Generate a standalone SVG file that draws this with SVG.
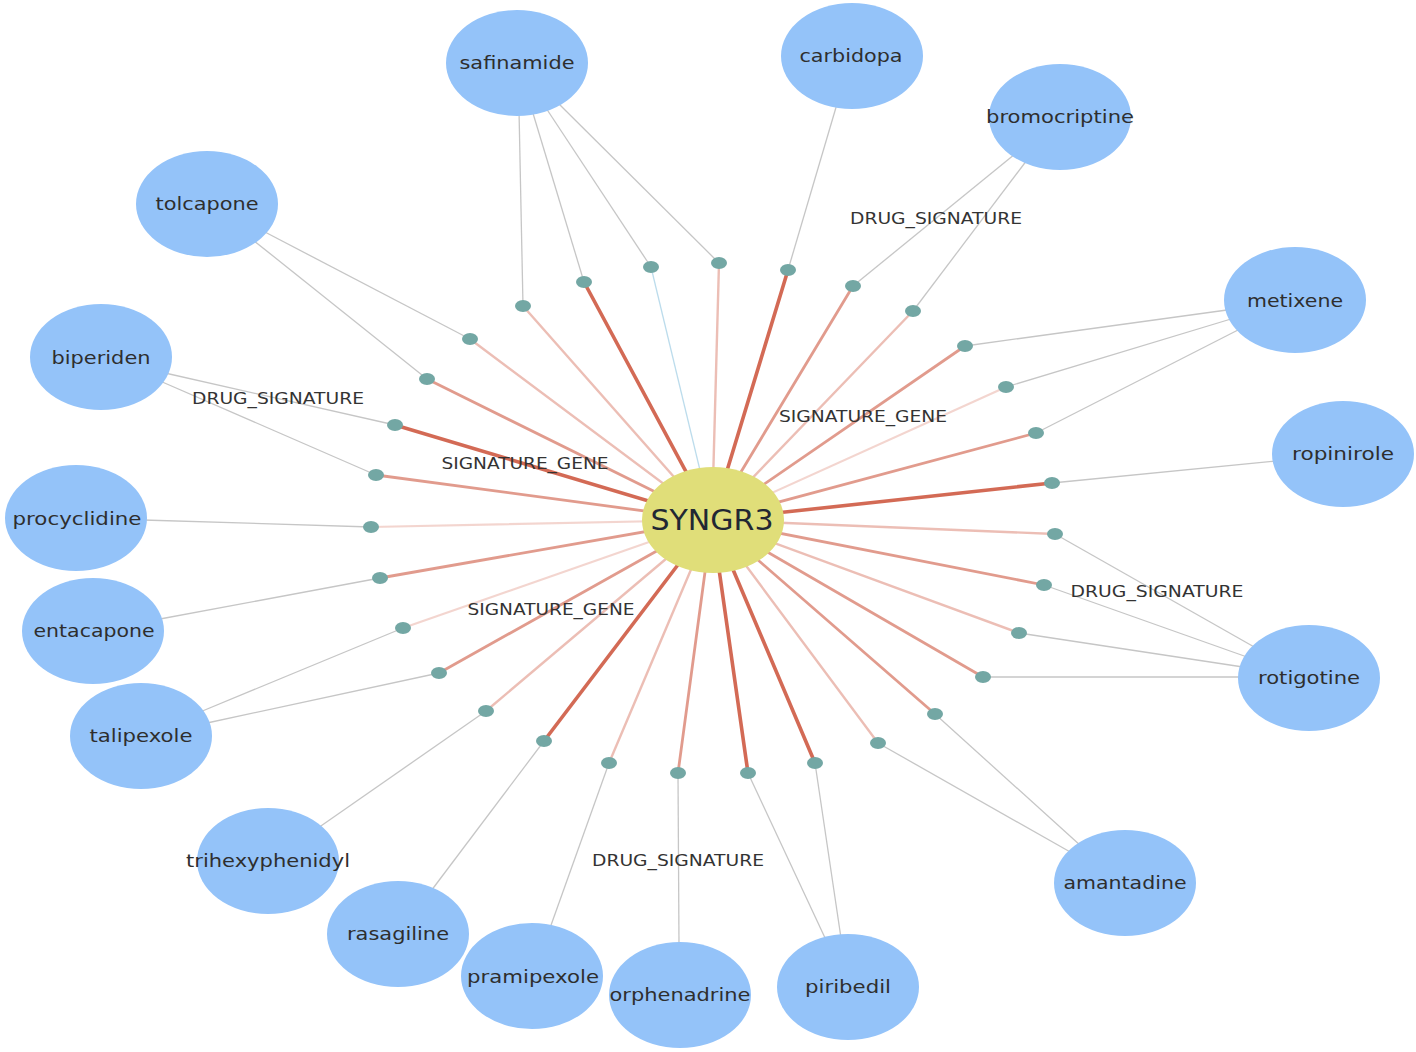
<svg xmlns="http://www.w3.org/2000/svg" width="1416" height="1052" viewBox="0 0 1416 1052">
<style>
.bg{fill:#ffffff}
.e{stroke:#cf5d47;fill:none;stroke-linecap:round}
.d{stroke-width:3.6;stroke-opacity:0.92}
.m{stroke-width:2.8;stroke-opacity:0.62}
.l{stroke-width:2.4;stroke-opacity:0.40}
.v{stroke-width:2.2;stroke-opacity:0.26}
.b{stroke:#bcdcec;stroke-width:1.3;fill:none}
.g{stroke:#c6c6c6;stroke-width:1.3;fill:none}
.dot{fill:#73a7a4}
.drug{fill:#94c3f9}
.gene{fill:#e0de79}
.nl{font-family:"DejaVu Sans","Noto Sans",sans-serif;font-size:18px;fill:#2e2e2e;text-anchor:middle}
.el{font-family:"DejaVu Sans","Noto Sans",sans-serif;font-size:16px;fill:#333333;text-anchor:middle}
.gl{font-family:"DejaVu Sans","Noto Sans",sans-serif;font-size:28px;fill:#222733;text-anchor:middle}
</style>
<rect class="bg" x="0" y="0" width="1416" height="1052"/>
<g id="connectors">
<g id="gene-edges">
<line class="e l" x1="712" y1="520" x2="523" y2="306"/>
<line class="e d" x1="712" y1="520" x2="584" y2="282"/>
<line class="b" x1="712" y1="520" x2="651" y2="267"/>
<line class="e l" x1="712" y1="520" x2="719" y2="263"/>
<line class="e d" x1="712" y1="520" x2="788" y2="270"/>
<line class="e m" x1="712" y1="520" x2="853" y2="286"/>
<line class="e l" x1="712" y1="520" x2="913" y2="311"/>
<line class="e m" x1="712" y1="520" x2="965" y2="346"/>
<line class="e v" x1="712" y1="520" x2="1006" y2="387"/>
<line class="e m" x1="712" y1="520" x2="1036" y2="433"/>
<line class="e d" x1="712" y1="520" x2="1052" y2="483"/>
<line class="e l" x1="712" y1="520" x2="1055" y2="534"/>
<line class="e m" x1="712" y1="520" x2="1044" y2="585"/>
<line class="e l" x1="712" y1="520" x2="1019" y2="633"/>
<line class="e m" x1="712" y1="520" x2="983" y2="677"/>
<line class="e m" x1="712" y1="520" x2="935" y2="714"/>
<line class="e l" x1="712" y1="520" x2="878" y2="743"/>
<line class="e d" x1="712" y1="520" x2="815" y2="763"/>
<line class="e d" x1="712" y1="520" x2="748" y2="773"/>
<line class="e m" x1="712" y1="520" x2="678" y2="773"/>
<line class="e l" x1="712" y1="520" x2="609" y2="763"/>
<line class="e d" x1="712" y1="520" x2="544" y2="741"/>
<line class="e l" x1="712" y1="520" x2="486" y2="711"/>
<line class="e m" x1="712" y1="520" x2="439" y2="673"/>
<line class="e v" x1="712" y1="520" x2="403" y2="628"/>
<line class="e m" x1="712" y1="520" x2="380" y2="578"/>
<line class="e v" x1="712" y1="520" x2="371" y2="527"/>
<line class="e m" x1="712" y1="520" x2="376" y2="475"/>
<line class="e d" x1="712" y1="520" x2="395" y2="425"/>
<line class="e m" x1="712" y1="520" x2="427" y2="379"/>
<line class="e l" x1="712" y1="520" x2="470" y2="339"/>
</g>
<g id="drug-edges">
<line class="g" x1="523" y1="306" x2="519" y2="110"/>
<line class="g" x1="584" y1="282" x2="532" y2="110"/>
<line class="g" x1="651" y1="267" x2="546" y2="108"/>
<line class="g" x1="719" y1="263" x2="558" y2="103"/>
<line class="g" x1="788" y1="270" x2="837" y2="104"/>
<line class="g" x1="853" y1="286" x2="1015" y2="154"/>
<line class="g" x1="913" y1="311" x2="1027" y2="160"/>
<line class="g" x1="965" y1="346" x2="1227" y2="310"/>
<line class="g" x1="1006" y1="387" x2="1231" y2="319"/>
<line class="g" x1="1036" y1="433" x2="1238" y2="330"/>
<line class="g" x1="1052" y1="483" x2="1276" y2="461"/>
<line class="g" x1="1055" y1="534" x2="1256" y2="648"/>
<line class="g" x1="1044" y1="585" x2="1247" y2="657"/>
<line class="g" x1="1019" y1="633" x2="1243" y2="667"/>
<line class="g" x1="983" y1="677" x2="1242" y2="677"/>
<line class="g" x1="935" y1="714" x2="1081" y2="846"/>
<line class="g" x1="878" y1="743" x2="1072" y2="853"/>
<line class="g" x1="815" y1="763" x2="841" y2="938"/>
<line class="g" x1="748" y1="773" x2="826" y2="940"/>
<line class="g" x1="678" y1="773" x2="679" y2="946"/>
<line class="g" x1="609" y1="763" x2="550" y2="928"/>
<line class="g" x1="544" y1="741" x2="431" y2="891"/>
<line class="g" x1="486" y1="711" x2="318" y2="828"/>
<line class="g" x1="439" y1="673" x2="207" y2="723"/>
<line class="g" x1="403" y1="628" x2="200" y2="712"/>
<line class="g" x1="380" y1="578" x2="160" y2="619"/>
<line class="g" x1="371" y1="527" x2="143" y2="520"/>
<line class="g" x1="376" y1="475" x2="160" y2="381"/>
<line class="g" x1="395" y1="425" x2="165" y2="373"/>
<line class="g" x1="427" y1="379" x2="253" y2="240"/>
<line class="g" x1="470" y1="339" x2="263" y2="231"/>
</g>
<g id="edge-dots">
<ellipse class="dot" cx="523" cy="306" rx="8" ry="6"/>
<ellipse class="dot" cx="584" cy="282" rx="8" ry="6"/>
<ellipse class="dot" cx="651" cy="267" rx="8" ry="6"/>
<ellipse class="dot" cx="719" cy="263" rx="8" ry="6"/>
<ellipse class="dot" cx="788" cy="270" rx="8" ry="6"/>
<ellipse class="dot" cx="853" cy="286" rx="8" ry="6"/>
<ellipse class="dot" cx="913" cy="311" rx="8" ry="6"/>
<ellipse class="dot" cx="965" cy="346" rx="8" ry="6"/>
<ellipse class="dot" cx="1006" cy="387" rx="8" ry="6"/>
<ellipse class="dot" cx="1036" cy="433" rx="8" ry="6"/>
<ellipse class="dot" cx="1052" cy="483" rx="8" ry="6"/>
<ellipse class="dot" cx="1055" cy="534" rx="8" ry="6"/>
<ellipse class="dot" cx="1044" cy="585" rx="8" ry="6"/>
<ellipse class="dot" cx="1019" cy="633" rx="8" ry="6"/>
<ellipse class="dot" cx="983" cy="677" rx="8" ry="6"/>
<ellipse class="dot" cx="935" cy="714" rx="8" ry="6"/>
<ellipse class="dot" cx="878" cy="743" rx="8" ry="6"/>
<ellipse class="dot" cx="815" cy="763" rx="8" ry="6"/>
<ellipse class="dot" cx="748" cy="773" rx="8" ry="6"/>
<ellipse class="dot" cx="678" cy="773" rx="8" ry="6"/>
<ellipse class="dot" cx="609" cy="763" rx="8" ry="6"/>
<ellipse class="dot" cx="544" cy="741" rx="8" ry="6"/>
<ellipse class="dot" cx="486" cy="711" rx="8" ry="6"/>
<ellipse class="dot" cx="439" cy="673" rx="8" ry="6"/>
<ellipse class="dot" cx="403" cy="628" rx="8" ry="6"/>
<ellipse class="dot" cx="380" cy="578" rx="8" ry="6"/>
<ellipse class="dot" cx="371" cy="527" rx="8" ry="6"/>
<ellipse class="dot" cx="376" cy="475" rx="8" ry="6"/>
<ellipse class="dot" cx="395" cy="425" rx="8" ry="6"/>
<ellipse class="dot" cx="427" cy="379" rx="8" ry="6"/>
<ellipse class="dot" cx="470" cy="339" rx="8" ry="6"/>
</g>
</g>
<g id="node-SYNGR3"><ellipse class="gene" cx="713" cy="520" rx="71" ry="53"/><text class="gl" x="712" y="530" textLength="123" lengthAdjust="spacingAndGlyphs">SYNGR3</text></g>
<g id="node-safinamide"><ellipse class="drug" cx="517" cy="63" rx="71" ry="53"/><text class="nl" x="517" y="69" textLength="115" lengthAdjust="spacingAndGlyphs">safinamide</text></g>
<g id="node-carbidopa"><ellipse class="drug" cx="852" cy="56" rx="71" ry="53"/><text class="nl" x="851" y="62" textLength="103" lengthAdjust="spacingAndGlyphs">carbidopa</text></g>
<g id="node-bromocriptine"><ellipse class="drug" cx="1060" cy="117" rx="71" ry="53"/><text class="nl" x="1060" y="123" textLength="148" lengthAdjust="spacingAndGlyphs">bromocriptine</text></g>
<g id="node-tolcapone"><ellipse class="drug" cx="207" cy="204" rx="71" ry="53"/><text class="nl" x="207" y="210" textLength="103" lengthAdjust="spacingAndGlyphs">tolcapone</text></g>
<g id="node-metixene"><ellipse class="drug" cx="1295" cy="300" rx="71" ry="53"/><text class="nl" x="1295" y="307" textLength="96" lengthAdjust="spacingAndGlyphs">metixene</text></g>
<g id="node-biperiden"><ellipse class="drug" cx="101" cy="357" rx="71" ry="53"/><text class="nl" x="101" y="364" textLength="99" lengthAdjust="spacingAndGlyphs">biperiden</text></g>
<g id="node-ropinirole"><ellipse class="drug" cx="1343" cy="454" rx="71" ry="53"/><text class="nl" x="1343" y="460" textLength="102" lengthAdjust="spacingAndGlyphs">ropinirole</text></g>
<g id="node-procyclidine"><ellipse class="drug" cx="76" cy="518" rx="71" ry="53"/><text class="nl" x="77" y="525" textLength="129" lengthAdjust="spacingAndGlyphs">procyclidine</text></g>
<g id="node-entacapone"><ellipse class="drug" cx="93" cy="631" rx="71" ry="53"/><text class="nl" x="94" y="637" textLength="121" lengthAdjust="spacingAndGlyphs">entacapone</text></g>
<g id="node-rotigotine"><ellipse class="drug" cx="1309" cy="678" rx="71" ry="53"/><text class="nl" x="1309" y="684" textLength="102" lengthAdjust="spacingAndGlyphs">rotigotine</text></g>
<g id="node-talipexole"><ellipse class="drug" cx="141" cy="736" rx="71" ry="53"/><text class="nl" x="141" y="742" textLength="103" lengthAdjust="spacingAndGlyphs">talipexole</text></g>
<g id="node-trihexyphenidyl"><ellipse class="drug" cx="268" cy="861" rx="71" ry="53"/><text class="nl" x="268" y="867" textLength="164" lengthAdjust="spacingAndGlyphs">trihexyphenidyl</text></g>
<g id="node-amantadine"><ellipse class="drug" cx="1125" cy="883" rx="71" ry="53"/><text class="nl" x="1125" y="889" textLength="123" lengthAdjust="spacingAndGlyphs">amantadine</text></g>
<g id="node-rasagiline"><ellipse class="drug" cx="398" cy="934" rx="71" ry="53"/><text class="nl" x="398" y="940" textLength="102" lengthAdjust="spacingAndGlyphs">rasagiline</text></g>
<g id="node-pramipexole"><ellipse class="drug" cx="532" cy="976" rx="71" ry="53"/><text class="nl" x="533" y="983" textLength="132" lengthAdjust="spacingAndGlyphs">pramipexole</text></g>
<g id="node-orphenadrine"><ellipse class="drug" cx="680" cy="995" rx="71" ry="53"/><text class="nl" x="680" y="1001" textLength="141" lengthAdjust="spacingAndGlyphs">orphenadrine</text></g>
<g id="node-piribedil"><ellipse class="drug" cx="848" cy="987" rx="71" ry="53"/><text class="nl" x="848" y="993" textLength="86" lengthAdjust="spacingAndGlyphs">piribedil</text></g>
<g id="edge-labels">
<text class="el" x="936" y="224" textLength="172" lengthAdjust="spacingAndGlyphs">DRUG_SIGNATURE</text>
<text class="el" x="278" y="404" textLength="172" lengthAdjust="spacingAndGlyphs">DRUG_SIGNATURE</text>
<text class="el" x="1157" y="597" textLength="173" lengthAdjust="spacingAndGlyphs">DRUG_SIGNATURE</text>
<text class="el" x="678" y="866" textLength="172" lengthAdjust="spacingAndGlyphs">DRUG_SIGNATURE</text>
<text class="el" x="863" y="422" textLength="168" lengthAdjust="spacingAndGlyphs">SIGNATURE_GENE</text>
<text class="el" x="525" y="469" textLength="167" lengthAdjust="spacingAndGlyphs">SIGNATURE_GENE</text>
<text class="el" x="551" y="615" textLength="167" lengthAdjust="spacingAndGlyphs">SIGNATURE_GENE</text>
</g>
</svg>
